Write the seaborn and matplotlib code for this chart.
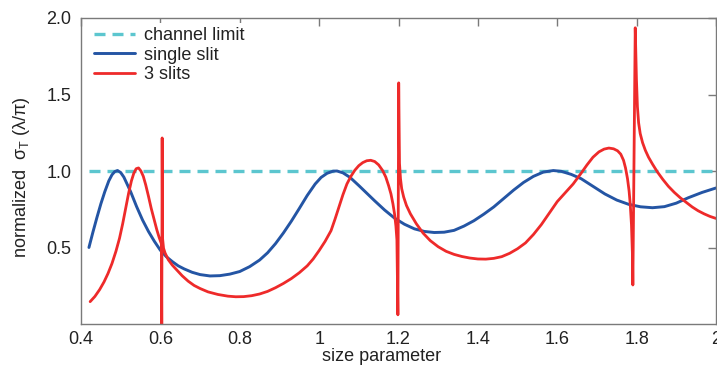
import matplotlib
matplotlib.use("Agg")
import matplotlib.pyplot as plt
import pandas as pd
import seaborn as sns

# Normalized transmission cross-section versus size parameter
single_x = [0.42, 0.43, 0.44, 0.45, 0.46, 0.47, 0.478, 0.485, 0.492, 0.50, 0.508,
            0.515, 0.525, 0.54, 0.555, 0.57, 0.585, 0.60, 0.615, 0.63, 0.645,
            0.66, 0.68, 0.70, 0.725, 0.75, 0.775, 0.80, 0.825, 0.85, 0.87, 0.89,
            0.91, 0.93, 0.95, 0.97, 0.99, 1.005, 1.02, 1.035, 1.045, 1.06, 1.078,
            1.10, 1.12, 1.14, 1.165, 1.19, 1.215, 1.24, 1.265, 1.29, 1.315, 1.34,
            1.365, 1.39, 1.415, 1.44, 1.465, 1.49, 1.515, 1.54, 1.565, 1.59,
            1.61, 1.635, 1.66, 1.69, 1.72, 1.75, 1.78, 1.81, 1.84, 1.87, 1.90,
            1.93, 1.965, 2.0]
single_y = [0.50, 0.60, 0.695, 0.785, 0.865, 0.935, 0.975, 0.996, 1.003, 0.99, 0.96,
            0.921, 0.865, 0.768, 0.68, 0.605, 0.54, 0.482, 0.44, 0.408, 0.38,
            0.36, 0.338, 0.323, 0.314, 0.316, 0.326, 0.343, 0.375, 0.418, 0.465, 0.525,
            0.595, 0.672, 0.755, 0.84, 0.915, 0.958, 0.985, 0.999, 1.0, 0.988, 0.958,
            0.905, 0.855, 0.805, 0.745, 0.692, 0.652, 0.622, 0.605, 0.598, 0.60, 0.612,
            0.64, 0.675, 0.718, 0.765, 0.82, 0.875, 0.925, 0.965, 0.993, 1.003,
            0.998, 0.978, 0.95, 0.90, 0.85, 0.81, 0.782, 0.766, 0.76, 0.767, 0.79,
            0.825, 0.86, 0.889]

triple_x = [0.423, 0.435, 0.447, 0.458, 0.468, 0.478, 0.488, 0.497, 0.505, 0.513,
            0.52, 0.527, 0.533, 0.539, 0.545, 0.551, 0.557, 0.563, 0.57, 0.577,
            0.584, 0.591, 0.597, 0.6025, 0.6035, 0.6045, 0.6055, 0.608, 0.612,
            0.62, 0.63, 0.641, 0.655, 0.67, 0.685, 0.70, 0.72, 0.745, 0.77, 0.79,
            0.81, 0.83, 0.85, 0.87, 0.89, 0.91, 0.93, 0.95, 0.97, 0.985, 1.00,
            1.015, 1.03, 1.04, 1.05, 1.06, 1.07, 1.08, 1.09, 1.10, 1.11, 1.12,
            1.13, 1.14, 1.15, 1.16, 1.168, 1.175, 1.181, 1.186, 1.19, 1.1935,
            1.196, 1.1985, 1.2005, 1.2025, 1.205, 1.208, 1.213, 1.22, 1.23, 1.245,
            1.262, 1.28, 1.30, 1.32, 1.34, 1.36, 1.38, 1.40, 1.42, 1.44, 1.46,
            1.48, 1.50, 1.52, 1.54, 1.56, 1.58, 1.60, 1.62, 1.64, 1.66, 1.675,
            1.69, 1.705, 1.718, 1.73, 1.742, 1.752, 1.76, 1.767, 1.772, 1.777,
            1.781, 1.784, 1.787, 1.7895, 1.7905, 1.7965, 1.7995, 1.802, 1.805,
            1.809, 1.815, 1.822, 1.83, 1.84, 1.852, 1.866, 1.88, 1.895, 1.91,
            1.925, 1.94, 1.955, 1.97, 1.985, 2.0]
triple_y = [0.146, 0.18, 0.225, 0.275, 0.33, 0.395, 0.475, 0.56, 0.655, 0.76,
            0.855, 0.935, 0.985, 1.015, 1.02, 1.0, 0.965, 0.91, 0.835, 0.755,
            0.685, 0.616, 0.565, 0.525, -0.05, 1.216, 0.56, 0.495, 0.463,
            0.42, 0.385, 0.354, 0.315, 0.28, 0.252, 0.232, 0.21, 0.193, 0.182, 0.178,
            0.179, 0.185, 0.196, 0.213, 0.237, 0.265, 0.297, 0.335, 0.38, 0.425, 0.48,
            0.54, 0.61, 0.685, 0.765, 0.845, 0.915, 0.965, 1.005, 1.035, 1.055, 1.067,
            1.07, 1.062, 1.04, 1.003, 0.96, 0.905, 0.85, 0.785, 0.72, 0.64,
            0.55, 0.06, 1.576, 1.05, 0.95, 0.885, 0.83, 0.775, 0.72, 0.655,
            0.594, 0.545, 0.505, 0.475, 0.455, 0.441, 0.431, 0.425, 0.424, 0.429, 0.44,
            0.462, 0.492, 0.53, 0.585, 0.65, 0.725, 0.80, 0.857, 0.915, 0.985, 1.04,
            1.09, 1.125, 1.143, 1.15, 1.145, 1.132, 1.11, 1.07, 1.02, 0.95,
            0.87, 0.78, 0.65, 0.45, 0.255, 1.936, 1.6, 1.42, 1.315,
            1.245, 1.185, 1.135, 1.09, 1.045, 0.995, 0.945, 0.90, 0.86, 0.825,
            0.795, 0.765, 0.74, 0.72, 0.703, 0.69]

limit_x = [0.42, 2.0]
limit_y = [1.0, 1.0]

x_ticks = [0.4, 0.6, 0.8, 1.0, 1.2, 1.4, 1.6, 1.8, 2.0]
x_tick_labels = ["0.4", "0.6", "0.8", "1", "1.2", "1.4", "1.6", "1.8", "2"]
y_ticks = [0.5, 1.0, 1.5, 2.0]
y_tick_labels = ["0.5", "1.0", "1.5", "2.0"]

sns.set_theme(style="white")
plt.rcParams["font.family"] = ["Liberation Sans", "DejaVu Sans"]
plt.rcParams["mathtext.fontset"] = "custom"
plt.rcParams["mathtext.rm"] = "Liberation Sans"
plt.rcParams["mathtext.it"] = "Liberation Sans"

text_color = "#222222"
spine_color = "#7a7a7a"

fig = plt.figure(figsize=(7.17, 3.65), dpi=100)
ax = fig.add_axes([81 / 717, 1 - 324 / 365, 635 / 717, 306 / 365])

limit_df = pd.DataFrame({"x": limit_x, "y": limit_y})
single_df = pd.DataFrame({"x": single_x, "y": single_y})
triple_df = pd.DataFrame({"x": triple_x, "y": triple_y})

sns.lineplot(data=limit_df, x="x", y="y", ax=ax, color="#5cc6cf", lw=2.4,
             linestyle=(0, (3.3, 2.1)), label="channel limit",
             sort=False, estimator=None)
sns.lineplot(data=single_df, x="x", y="y", ax=ax, color="#2455a4", lw=2.1,
             label="single slit", sort=False, estimator=None,
             solid_joinstyle="round")
sns.lineplot(data=triple_df, x="x", y="y", ax=ax, color="#ee2a2a", lw=2.0,
             label="3 slits", sort=False, estimator=None,
             solid_joinstyle="round")

ax.set_xlim(0.4, 2.0)
ax.set_ylim(0.0, 2.0)
ax.set_xticks(x_ticks)
ax.set_xticklabels(x_tick_labels)
ax.set_yticks(y_ticks)
ax.set_yticklabels(y_tick_labels)

ax.tick_params(axis="both", which="major", direction="in", length=6, width=1,
               color=spine_color, labelsize=13, labelcolor=text_color,
               top=True, right=True)
ax.tick_params(axis="x", pad=5)
ax.tick_params(axis="y", pad=7)
for spine in ax.spines.values():
    spine.set_color(spine_color)
    spine.set_linewidth(1.0)

ax.set_xlabel("size parameter", fontsize=13, color=text_color)
ax.set_ylabel("normalized  σ$_{\\mathrm{T}}$ (λ/π)", fontsize=13, color=text_color)
ax.xaxis.set_label_coords((381.5 - 81) / 635, -0.08)
ax.yaxis.set_label_coords(-(81 - 32) / 635, 0.48)

leg = ax.legend(loc="upper left", bbox_to_anchor=(0.006, 1.0), fontsize=13,
                frameon=True, framealpha=1.0, facecolor="white", edgecolor="none",
                handlelength=2.3, handletextpad=0.5, labelspacing=0.15,
                borderpad=0.2, borderaxespad=0.3)
for t in leg.get_texts():
    t.set_color(text_color)

fig.savefig("out.png", dpi=100)
